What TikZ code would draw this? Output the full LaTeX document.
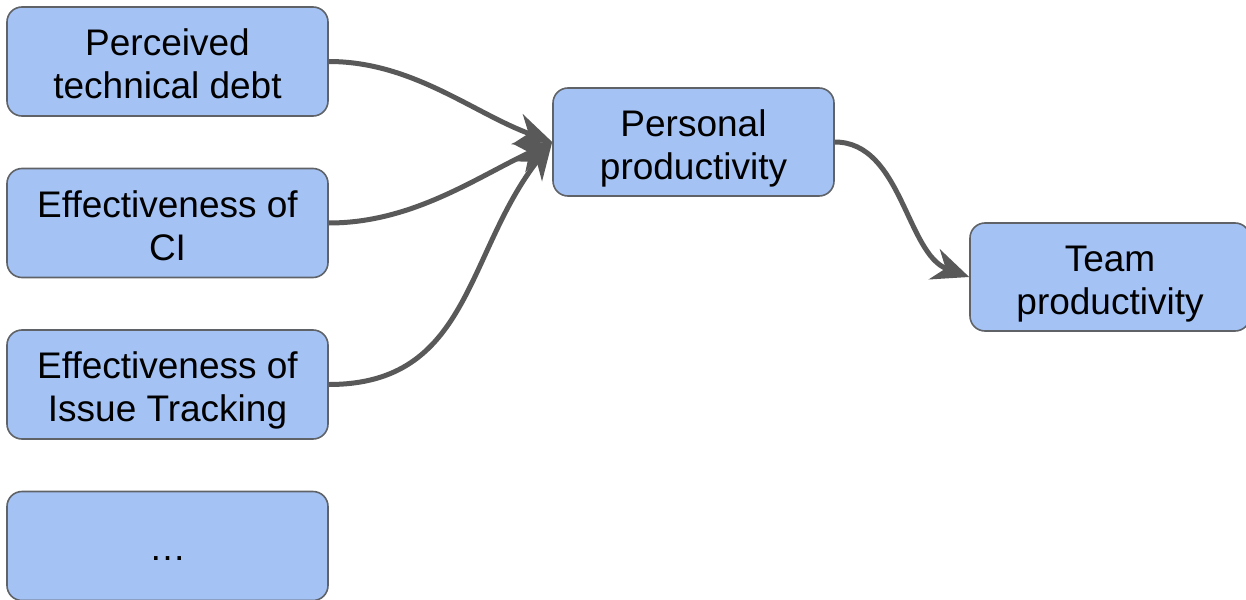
\documentclass[tikz,border=0pt]{standalone}
\usepackage{fontspec}
\setmainfont{Liberation Sans}
\usetikzlibrary{arrows.meta}
\definecolor{boxfill}{HTML}{A4C2F4}
\definecolor{boxline}{HTML}{5F6368}
\definecolor{linkgray}{HTML}{595959}
% centred lines, set slightly below the middle of the box
\newcommand{\boxtext}[1]{\raisebox{-7pt}[\height][\depth]{\begin{tabular}{@{}c@{}}#1\end{tabular}}}
\tikzset{
  factor/.style={draw=boxline, line width=1.6pt, fill=boxfill, rounded corners=15pt,
    minimum width=321pt, minimum height=109pt, align=center, inner sep=0pt,
    font=\fontsize{37}{43}\selectfont},
  link/.style={draw=linkgray, line width=5pt,
    -{Stealth[length=37pt, width=32pt, inset=12pt]}}
}
\begin{document}
\begin{tikzpicture}[x=1pt, y=-1pt]
  \useasboundingbox (0,0) rectangle (1246,599);
  % contributing factors
  \node[factor] (debt)   at (167.5, 61.5) {\boxtext{Perceived\\technical debt}};
  \node[factor] (ci)     at (167.5,223.0) {\boxtext{Effectiveness of\\CI}};
  \node[factor] (issues) at (167.5,384.5) {\boxtext{Effectiveness of\\Issue Tracking}};
  \node[factor] (more)   at (167.5,546.0) {\raisebox{-13pt}[\height][\depth]{\ldots}};
  % outcomes
  \node[factor, minimum width=281pt, minimum height=108pt] (personal) at (693.5,142) {\boxtext{Personal\\productivity}};
  \node[factor, minimum width=280pt, minimum height=108pt] (team) at (1110,277) {\boxtext{Team\\productivity}};
  % influences
  \draw[link] (debt.east)   to[out=0, in=160, looseness=0.9] (personal.west);
  \draw[link] (ci.east)     to[out=0, in=205, looseness=0.9] (personal.west);
  \draw[link] (issues.east) to[out=0, in=232, looseness=1.1] (personal.west);
  \draw[link] (personal.east) to[out=0, in=160, looseness=0.9] (team.west);
\end{tikzpicture}
\end{document}
